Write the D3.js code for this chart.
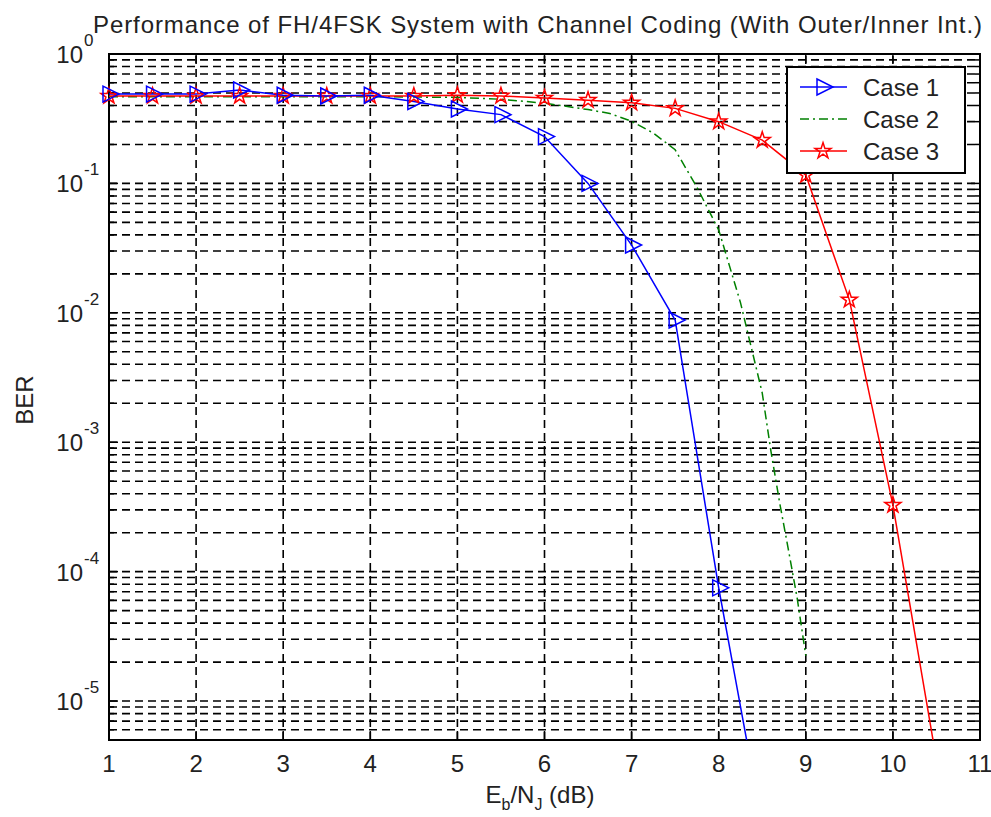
<!DOCTYPE html>
<html>
<head>
<meta charset="utf-8">
<script src="https://cdn.jsdelivr.net/npm/d3@7"></script>
<style>
  html, body { margin: 0; padding: 0; background: #fff; }
  svg { display: block; font-family: Arial, "Liberation Sans", sans-serif; }
</style>
</head>
<body>
<svg id="chart" width="991" height="817"></svg>
<script>
// BER vs Eb/NJ
const EBNJ = [1, 1.5, 2, 2.5, 3, 3.5, 4, 4.5, 5, 5.5, 6, 6.5, 7, 7.5, 8, 8.5, 9, 9.5, 10, 10.5];
const CASE1 = [0.49, 0.49, 0.49, 0.527, 0.48, 0.474, 0.48, 0.43, 0.376, 0.34, 0.23, 0.10, 0.0334, 0.0088, 7.5e-5, 1.1e-6];
const CASE3 = [0.473, 0.473, 0.473, 0.473, 0.473, 0.473, 0.473, 0.473, 0.48, 0.474, 0.457, 0.44, 0.42, 0.38, 0.30, 0.216, 0.116, 0.0126, 3.27e-4, 3.5e-6];
// case 2 is a smooth dash-dot curve without markers, sampled more finely
const CASE2_X = [1, 2, 3, 4, 5, 5.5, 6, 6.5, 6.75, 7, 7.25, 7.5, 7.75, 8, 8.25, 8.5, 8.6, 8.7, 8.8, 8.9, 9];
const CASE2 = [0.468, 0.468, 0.468, 0.468, 0.462, 0.447, 0.417, 0.372, 0.347, 0.302, 0.245, 0.182, 0.0933, 0.0437, 0.012, 0.0024, 8.5e-4, 3.4e-4, 1.48e-4, 6.3e-5, 2.24e-5];
const X_TICKS = d3.range(1, 12);
const Y_DECADES = [0, -1, -2, -3, -4, -5];
const LEGEND = ["Case 1", "Case 2", "Case 3"];

const M = {left: 109, right: 980, top: 54, bottom: 740};
const svg = d3.select("#chart");
const x = d3.scaleLinear().domain([1, 11]).range([M.left, M.right]);
const y = d3.scaleLog().domain([5e-6, 1]).range([M.bottom, M.top]);

svg.append("defs").append("clipPath").attr("id", "plot")
  .append("rect").attr("x", M.left).attr("y", M.top)
  .attr("width", M.right - M.left).attr("height", M.bottom - M.top);

// grid: every integer in x, every minor/major value in y
const yGrid = [];
for (let e = -6; e <= 0; e++) for (let k = 1; k <= 9; k++) {
  const v = k * Math.pow(10, e);
  if (v >= 5e-6 && v <= 1) yGrid.push(v);
}
const grid = svg.append("g").attr("stroke", "#000").attr("stroke-width", 1.6)
  .attr("stroke-dasharray", "8,5").attr("fill", "none");
grid.selectAll("line.gy").data(yGrid).join("line").attr("class", "gy")
  .attr("x1", M.left).attr("x2", M.right)
  .attr("y1", d => y(d)).attr("y2", d => y(d));
grid.selectAll("line.gx").data(X_TICKS.slice(1, -1)).join("line").attr("class", "gx")
  .attr("x1", d => x(d)).attr("x2", d => x(d))
  .attr("y1", M.bottom).attr("y2", M.top);

// inside tick marks on all four sides
const ticks = svg.append("g").attr("stroke", "#000").attr("stroke-width", 1.5);
X_TICKS.forEach(t => {
  ticks.append("line").attr("x1", x(t)).attr("x2", x(t)).attr("y1", M.bottom).attr("y2", M.bottom - 9);
  ticks.append("line").attr("x1", x(t)).attr("x2", x(t)).attr("y1", M.top).attr("y2", M.top + 9);
});
yGrid.forEach(v => {
  const major = Y_DECADES.some(e => Math.abs(Math.log10(v) - e) < 1e-9);
  const L = major ? 9 : 5;
  ticks.append("line").attr("x1", M.left).attr("x2", M.left + L).attr("y1", y(v)).attr("y2", y(v));
  ticks.append("line").attr("x1", M.right).attr("x2", M.right - L).attr("y1", y(v)).attr("y2", y(v));
});

svg.append("rect").attr("x", M.left).attr("y", M.top)
  .attr("width", M.right - M.left).attr("height", M.bottom - M.top)
  .attr("fill", "none").attr("stroke", "#000").attr("stroke-width", 2);

// tick labels
svg.append("g").selectAll("text").data(X_TICKS).join("text")
  .attr("x", d => x(d)).attr("y", 772).attr("text-anchor", "middle")
  .attr("font-size", 24).attr("fill", "#222").text(d => d);

const yl = svg.append("g").attr("fill", "#222");
Y_DECADES.forEach(e => {
  const py = y(Math.pow(10, e));
  yl.append("text").attr("x", 83).attr("y", py + 9).attr("text-anchor", "end")
    .attr("font-size", 24).text("10");
  yl.append("text").attr("x", 84).attr("y", py - 8).attr("font-size", 17).text(e === 0 ? "0" : e);
});

// data lines
const line = d3.line().x(d => x(d[0])).y(d => y(d[1]));
const plot = svg.append("g").attr("clip-path", "url(#plot)").attr("fill", "none");
const c1 = CASE1.map((v, i) => [EBNJ[i], v]);
const c2 = CASE2.map((v, i) => [CASE2_X[i], v]);
const c3 = CASE3.map((v, i) => [EBNJ[i], v]);
plot.append("path").attr("d", line(c2)).attr("stroke", "#008000").attr("stroke-width", 1.5)
  .attr("stroke-dasharray", "9,4,2,4");
plot.append("path").attr("d", line(c3)).attr("stroke", "#ff0000").attr("stroke-width", 1.5);
plot.append("path").attr("d", line(c1)).attr("stroke", "#0000ff").attr("stroke-width", 1.5);

// markers (only for points inside the axis limits, not clipped)
const inside = d => d[1] >= 5e-6 && d[1] <= 1;
const tri = "M-6,-8L10,0L-6,8Z";
const star = d3.symbol().type(d3.symbolStar).size(80)();
svg.append("g").selectAll("path").data(c3.filter(inside)).join("path")
  .attr("transform", d => `translate(${x(d[0])},${y(d[1])})`)
  .attr("d", star).attr("fill", "none").attr("stroke", "#ff0000").attr("stroke-width", 1.5);
svg.append("g").selectAll("path").data(c1.filter(inside)).join("path")
  .attr("transform", d => `translate(${x(d[0])},${y(d[1])})`)
  .attr("d", tri).attr("fill", "none").attr("stroke", "#0000ff").attr("stroke-width", 1.5);

// legend
const lg = svg.append("g");
lg.append("rect").attr("x", 787).attr("y", 67).attr("width", 178).attr("height", 106)
  .attr("fill", "#fff").attr("stroke", "#000").attr("stroke-width", 2);
const LCOL = ["#0000ff", "#008000", "#ff0000"];
LEGEND.forEach((name, i) => {
  const ly = 87 + i * 32;
  const ln = lg.append("line").attr("x1", 800).attr("x2", 847).attr("y1", ly).attr("y2", ly)
    .attr("stroke", LCOL[i]).attr("stroke-width", 1.5);
  if (i === 1) ln.attr("stroke-dasharray", "9,4,2,4");
  if (i === 0) lg.append("path").attr("transform", `translate(823,${ly})`).attr("d", tri)
    .attr("fill", "none").attr("stroke", LCOL[i]).attr("stroke-width", 1.5);
  if (i === 2) lg.append("path").attr("transform", `translate(823,${ly})`).attr("d", star)
    .attr("fill", "none").attr("stroke", LCOL[i]).attr("stroke-width", 1.5);
  lg.append("text").attr("x", 863).attr("y", ly + 9).attr("font-size", 24).attr("fill", "#222").text(name);
});

// title and axis labels
svg.append("text").attr("x", 93).attr("y", 33)
  .attr("font-size", 24).attr("fill", "#222")
  .attr("textLength", 889).attr("lengthAdjust", "spacing")
  .text("Performance of FH/4FSK System with Channel Coding (With Outer/Inner Int.)");

const xl = svg.append("text").attr("x", 540).attr("y", 803).attr("text-anchor", "middle")
  .attr("font-size", 24).attr("fill", "#222");
xl.append("tspan").text("E");
xl.append("tspan").attr("font-size", 16).attr("dy", 7).text("b");
xl.append("tspan").attr("dy", -7).text("/N");
xl.append("tspan").attr("font-size", 16).attr("dy", 7).text("J");
xl.append("tspan").attr("dy", -7).text(" (dB)");

svg.append("text").attr("transform", "translate(33,400) rotate(-90)").attr("text-anchor", "middle")
  .attr("font-size", 24).attr("fill", "#222").text("BER");
</script>
</body>
</html>
